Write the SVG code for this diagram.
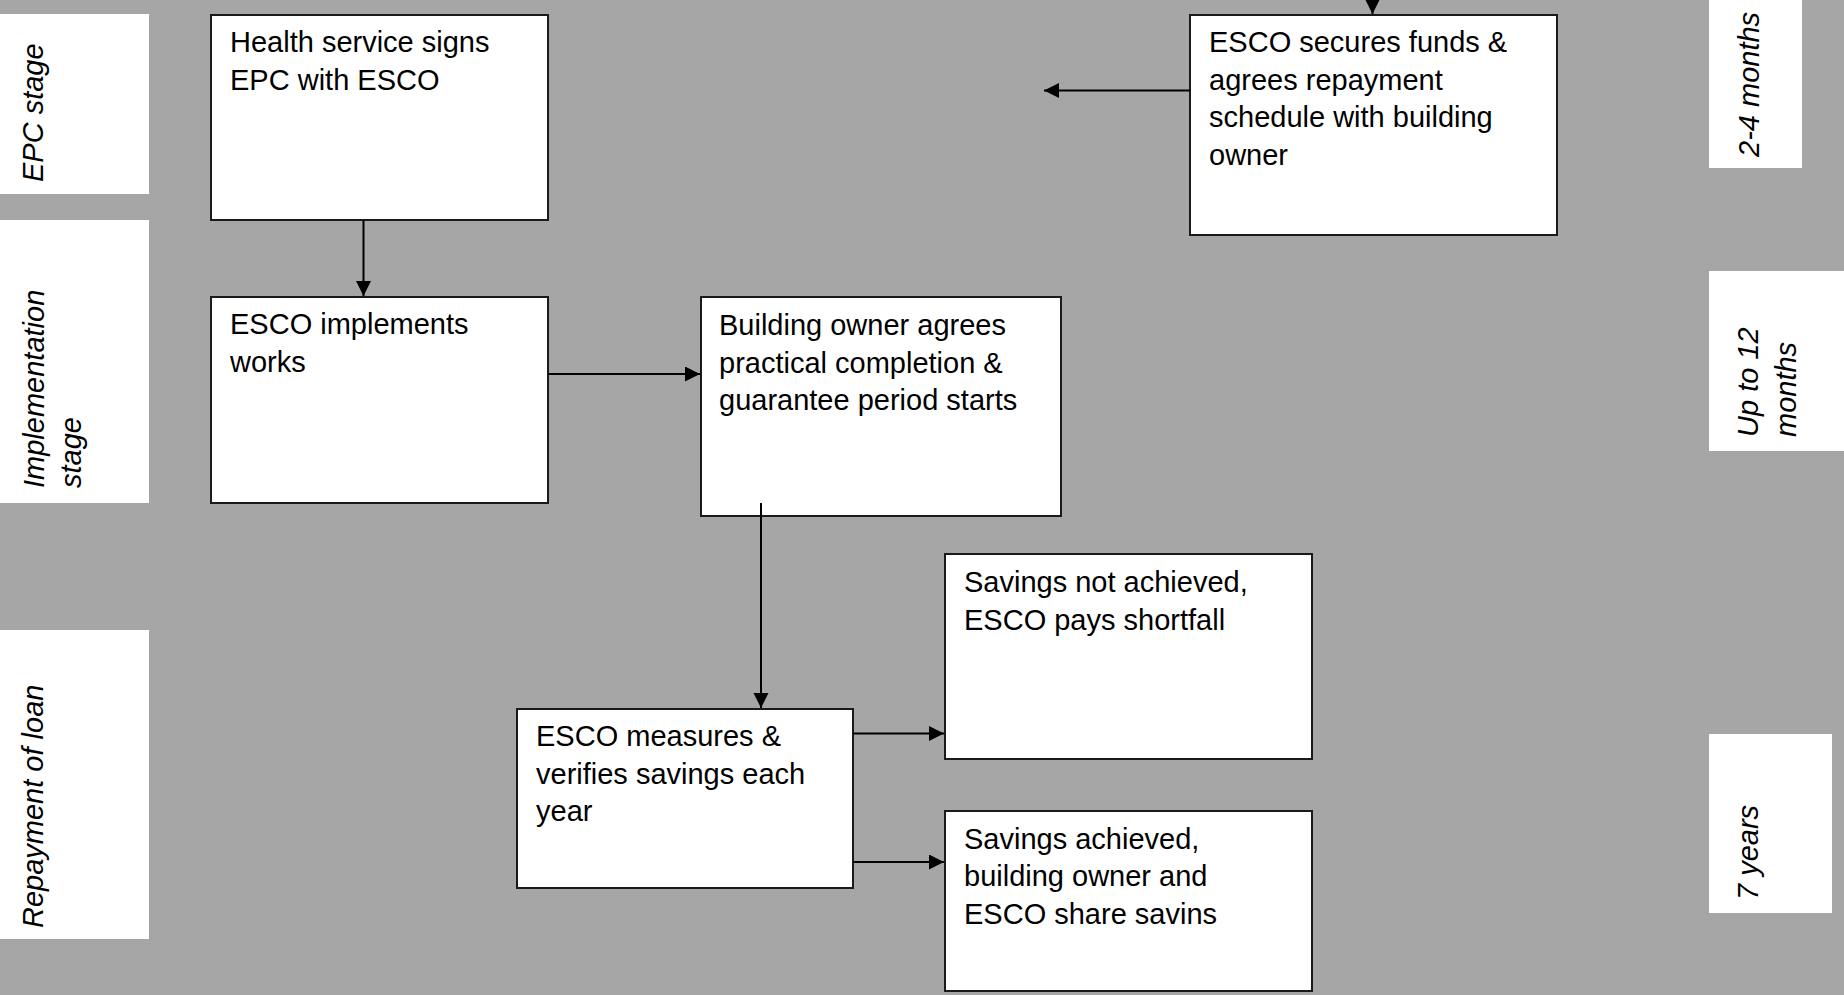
<svg xmlns="http://www.w3.org/2000/svg" width="1844" height="995" viewBox="0 0 1844 995">
<defs>
<style>
.bg{fill:#a6a6a6}
.lbl{fill:#ffffff}
.box{fill:#ffffff;stroke:#1a1a1a;stroke-width:2}
.t{font-family:"Liberation Sans",Arial,sans-serif;font-size:29px;fill:#000}
.it{font-family:"Liberation Sans",Arial,sans-serif;font-size:29px;font-style:italic;fill:#000}
.c{stroke:#000;stroke-width:2;fill:none;marker-end:url(#ah)}
</style>
<marker id="ah" markerUnits="userSpaceOnUse" markerWidth="16" markerHeight="16" refX="15" refY="7.5" orient="auto" viewBox="0 0 16 16">
<path d="M0,0 L15,7.5 L0,15 z" fill="#000"/>
</marker>
</defs>
<rect class="bg" x="0" y="0" width="1844" height="995"/>

<g id="label-epc">
<rect class="lbl" x="0" y="14" width="149" height="180"/>
<text class="it" transform="translate(43,182) rotate(-90)">EPC stage</text>
</g>
<g id="label-implementation">
<rect class="lbl" x="0" y="220" width="149" height="283"/>
<text class="it" transform="translate(44,488) rotate(-90)">Implementation</text>
<text class="it" transform="translate(81,488) rotate(-90)">stage</text>
</g>
<g id="label-repayment">
<rect class="lbl" x="0" y="630" width="149" height="309"/>
<text class="it" transform="translate(43,928) rotate(-90)">Repayment of loan</text>
</g>
<g id="label-2-4">
<rect class="lbl" x="1709" y="0" width="93" height="168"/>
<text class="it" transform="translate(1759,157) rotate(-90)">2-4 months</text>
</g>
<g id="label-12">
<rect class="lbl" x="1709" y="271" width="135" height="180"/>
<text class="it" transform="translate(1758,437) rotate(-90)">Up to 12</text>
<text class="it" transform="translate(1796,437) rotate(-90)">months</text>
</g>
<g id="label-7">
<rect class="lbl" x="1709" y="734" width="123" height="179"/>
<text class="it" transform="translate(1758,900) rotate(-90)">7 years</text>
</g>

<g id="node-sign">
<rect class="box" x="211" y="15" width="337" height="205"/>
<text class="t" x="230" y="52">Health service signs</text>
<text class="t" x="230" y="89.5">EPC with ESCO</text>
</g>
<g id="node-funds">
<rect class="box" x="1190" y="15" width="367" height="220"/>
<text class="t" x="1209" y="52">ESCO secures funds &amp;</text>
<text class="t" x="1209" y="89.5">agrees repayment</text>
<text class="t" x="1209" y="127">schedule with building</text>
<text class="t" x="1209" y="164.5">owner</text>
</g>
<g id="node-implements">
<rect class="box" x="211" y="297" width="337" height="206"/>
<text class="t" x="230" y="334">ESCO implements</text>
<text class="t" x="230" y="371.5">works</text>
</g>
<g id="node-completion">
<rect class="box" x="701" y="297" width="360" height="219"/>
<text class="t" x="719" y="335">Building owner agrees</text>
<text class="t" x="719" y="372.5">practical completion &amp;</text>
<text class="t" x="719" y="410">guarantee period starts</text>
</g>
<g id="node-measures">
<rect class="box" x="517" y="709" width="336" height="179"/>
<text class="t" x="536" y="746">ESCO measures &amp;</text>
<text class="t" x="536" y="783.5">verifies savings each</text>
<text class="t" x="536" y="821">year</text>
</g>
<g id="node-not-achieved">
<rect class="box" x="945" y="554" width="367" height="205"/>
<text class="t" x="964" y="592">Savings not achieved,</text>
<text class="t" x="964" y="629.5">ESCO pays shortfall</text>
</g>
<g id="node-achieved">
<rect class="box" x="945" y="811" width="367" height="180"/>
<text class="t" x="964" y="848.5">Savings achieved,</text>
<text class="t" x="964" y="886">building owner and</text>
<text class="t" x="964" y="923.5">ESCO share savins</text>
</g>

<g id="connectors">
<line class="c" x1="363.5" y1="220" x2="363.5" y2="296"/>
<line class="c" x1="548" y1="374" x2="700" y2="374"/>
<line class="c" x1="761" y1="503" x2="761" y2="708"/>
<line class="c" x1="853" y1="733.5" x2="944" y2="733.5"/>
<line class="c" x1="853" y1="862" x2="944" y2="862"/>
<line class="c" x1="1372.5" y1="-10" x2="1372.5" y2="14"/>
<line class="c" x1="1190" y1="90.5" x2="1044" y2="90.5"/>
</g>
</svg>
